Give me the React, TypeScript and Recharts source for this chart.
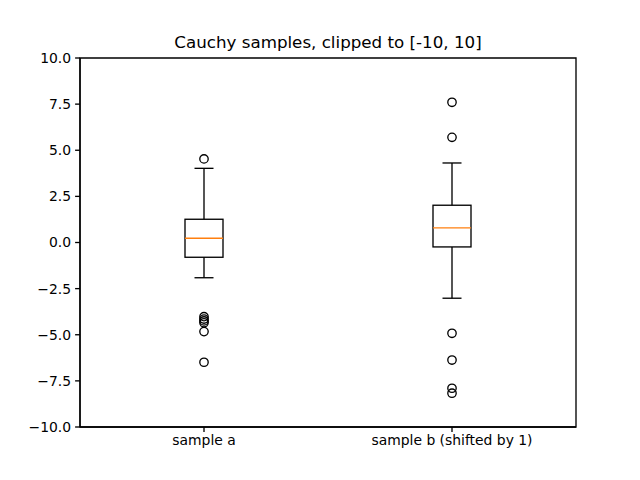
import React from 'react';
import { ComposedChart, Bar, Scatter, XAxis, YAxis, ReferenceArea } from 'recharts';

const categories = ['sample a', 'sample b (shifted by 1)'];
const positions = [1, 2];
const whiskerLow = [-1.91, -3.02];
const q1 = [-0.8, -0.24];
const median = [0.23, 0.79];
const q3 = [1.26, 2.02];
const whiskerHigh = [4.02, 4.31];
const outliersA = [4.53, -4.02, -4.15, -4.25, -4.35, -4.83, -6.49];
const outliersB = [7.6, 5.7, -4.92, -6.37, -7.9, -8.17];
const yTicks = [-10, -7.5, -5, -2.5, 0, 2.5, 5, 7.5, 10];
const title = 'Cauchy samples, clipped to [-10, 10]';

const boxData = positions.map((p, i) => ({
  x: p,
  name: categories[i],
  range: [whiskerLow[i], whiskerHigh[i]],
  wlo: whiskerLow[i],
  whi: whiskerHigh[i],
  q1: q1[i],
  med: median[i],
  q3: q3[i],
}));

const outlierData = [
  ...outliersA.map((v) => ({ x: positions[0], y: v })),
  ...outliersB.map((v) => ({ x: positions[1], y: v })),
];

const FONT = 'DejaVu Sans, sans-serif';
const LW = 1.33;

const BoxShape = (props: any) => {
  const { x, y, width, height, payload } = props;
  const { wlo, whi } = payload;
  const px = (v: number) => y + (height * (whi - v)) / (whi - wlo);
  const cx = x + width / 2;
  const cap = width / 4;
  const yq1 = px(payload.q1);
  const yq3 = px(payload.q3);
  const ym = px(payload.med);
  const yhi = px(whi);
  const ylo = px(wlo);
  return (
    <g>
      <line x1={cx} x2={cx} y1={yhi} y2={yq3} stroke="#000" strokeWidth={LW} />
      <line x1={cx} x2={cx} y1={yq1} y2={ylo} stroke="#000" strokeWidth={LW} />
      <line x1={cx - cap} x2={cx + cap} y1={yhi} y2={yhi} stroke="#000" strokeWidth={LW} />
      <line x1={cx - cap} x2={cx + cap} y1={ylo} y2={ylo} stroke="#000" strokeWidth={LW} />
      <rect x={x} y={yq3} width={width} height={yq1 - yq3} fill="none" stroke="#000" strokeWidth={LW} />
      <line x1={x} x2={x + width} y1={ym} y2={ym} stroke="#ff7f0e" strokeWidth={LW} />
    </g>
  );
};

const Flier = (props: any) => {
  const { cx, cy } = props;
  return <circle cx={cx} cy={cy} r={4.2} fill="none" stroke="#000" strokeWidth={LW} />;
};

const fmtY = (v: number) => v.toFixed(1).replace('-', '\u2212');
const fmtX = (v: number) => {
  const i = positions.indexOf(v);
  return i >= 0 ? categories[i] : '';
};

export default function App() {
  return (
    <div style={{ position: 'absolute', left: 0, top: 0, width: 640, height: 480, background: '#fff' }}>
      <div
        style={{
          position: 'absolute',
          left: 80,
          width: 496,
          top: 32,
          textAlign: 'center',
          fontFamily: FONT,
          fontSize: 16.7,
          lineHeight: '20px',
          color: '#000',
        }}
      >
        {title}
      </div>
      <ComposedChart
        width={640}
        height={480}
        data={boxData}
        margin={{ top: 58, right: 64, bottom: 23, left: 20 }}
      >
        <XAxis
          dataKey="x"
          type="number"
          domain={[0.5, 2.5]}
          ticks={positions}
          tickFormatter={fmtX}
          allowDataOverflow
          height={30}
          axisLine={{ stroke: '#000', strokeWidth: LW }}
          tickLine={{ stroke: '#000', strokeWidth: LW }}
          tickSize={4.9}
          tickMargin={3}
          tick={{ fill: '#000', fontSize: 13.9, fontFamily: FONT }}
          interval={0}
        />
        <YAxis
          type="number"
          domain={[-10, 10]}
          ticks={yTicks}
          tickFormatter={fmtY}
          allowDataOverflow
          width={60}
          axisLine={{ stroke: '#000', strokeWidth: LW }}
          tickLine={{ stroke: '#000', strokeWidth: LW }}
          tickSize={4.9}
          tickMargin={4}
          tick={{ fill: '#000', fontSize: 13.9, fontFamily: FONT }}
          interval={0}
        />
        <ReferenceArea
          x1={0.5}
          x2={2.5}
          y1={-10}
          y2={10}
          fill="none"
          fillOpacity={0}
          stroke="#000"
          strokeWidth={LW}
          ifOverflow="visible"
        />
        <Bar dataKey="range" barSize={38} shape={<BoxShape />} isAnimationActive={false} />
        <Scatter data={outlierData} dataKey="y" shape={<Flier />} isAnimationActive={false} />
      </ComposedChart>
    </div>
  );
}
